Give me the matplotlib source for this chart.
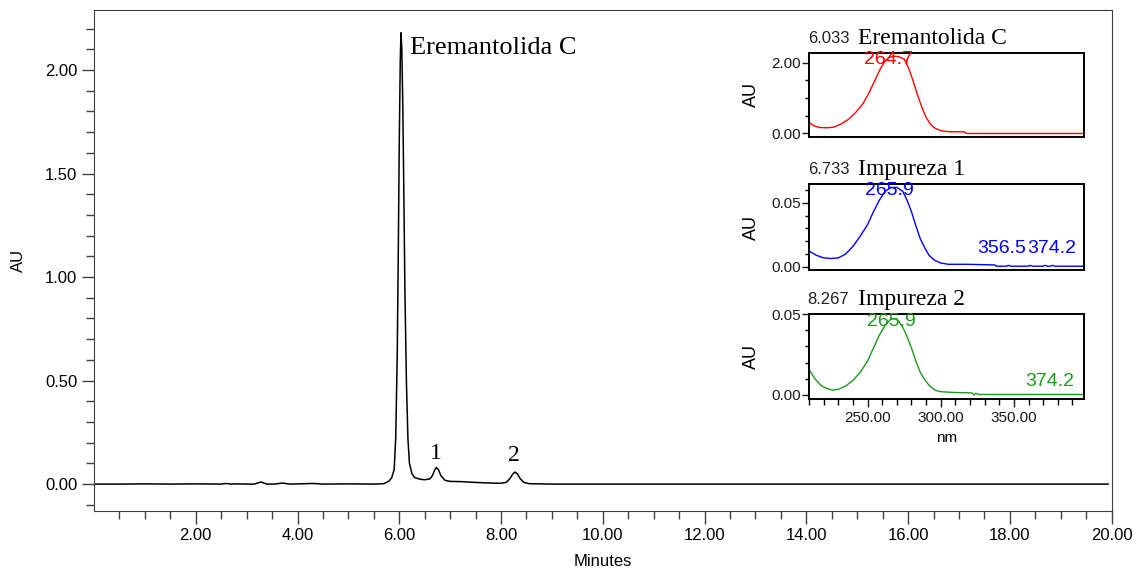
import numpy as np
import matplotlib
matplotlib.use("Agg")
import matplotlib.pyplot as plt
from matplotlib.ticker import MultipleLocator, FixedLocator, FormatStrFormatter

# main chromatogram (minutes, AU)
times = [0.0, 0.5, 1.0, 1.5, 2.0, 2.5, 2.6, 2.7, 2.8, 3.0, 3.15, 3.28, 3.4,
         3.55, 3.7, 3.85, 4.0, 4.3, 4.5, 5.0, 5.5, 5.7, 5.8, 5.85, 5.9, 5.93,
         5.96, 5.98, 6.0, 6.02, 6.033, 6.05, 6.07, 6.09, 6.11, 6.14, 6.17,
         6.2, 6.25, 6.3, 6.4, 6.5, 6.6, 6.65, 6.7, 6.73, 6.77, 6.82, 6.9,
         7.0, 7.2, 7.5, 7.8, 8.0, 8.1, 8.17, 8.22, 8.27, 8.32, 8.38, 8.45,
         8.55, 9.0, 10.0, 12.0, 14.0, 16.0, 18.0, 19.93]
absorb = [0.0, 0.0, 0.001, 0.0, 0.001, 0.0, 0.003, 0.0, 0.001, 0.0, 0.0,
          0.01, 0.0, 0.0, 0.005, 0.0, 0.001, 0.003, 0.0, 0.001, 0.0, 0.002,
          0.015, 0.03, 0.07, 0.22, 0.62, 1.1, 1.65, 2.05, 2.18, 2.1, 1.82,
          1.4, 0.95, 0.5, 0.22, 0.1, 0.05, 0.032, 0.024, 0.021, 0.025, 0.04,
          0.07, 0.08, 0.07, 0.04, 0.018, 0.013, 0.012, 0.008, 0.005, 0.004,
          0.008, 0.025, 0.045, 0.058, 0.05, 0.025, 0.008, 0.002, 0.0, 0.0,
          0.0, 0.0, 0.0, 0.0, 0.0]

# UV spectra (nm, AU)
nm_red = [210.5, 213, 217, 222, 227, 232, 237, 242, 247, 251, 255, 259, 262,
          265, 268, 271, 275, 278, 281, 284, 287, 290, 293, 296, 300, 305,
          316, 318, 398]
au_red = [0.3, 0.22, 0.17, 0.16, 0.18, 0.27, 0.4, 0.6, 0.85, 1.15, 1.5, 1.85,
          2.05, 2.15, 2.18, 2.17, 2.1, 1.85, 1.5, 1.1, 0.75, 0.45, 0.26, 0.15,
          0.08, 0.05, 0.045, 0.0, 0.0]

nm_blue = [210.5, 215, 220, 225, 230, 235, 240, 245, 250, 254, 258, 262, 266,
           270, 274, 277, 280, 283, 286, 289, 292, 296, 300, 305, 318, 337,
           338, 345, 346, 348, 360, 361, 363, 370, 371, 373, 375, 376, 378,
           398]
au_blue = [0.012, 0.009, 0.007, 0.0065, 0.007, 0.010, 0.016, 0.024, 0.033,
           0.043, 0.052, 0.059, 0.062, 0.062, 0.059, 0.052, 0.043, 0.032,
           0.022, 0.015, 0.009, 0.005, 0.003, 0.002, 0.002, 0.0015, 0.0005,
           0.0005, 0.0012, 0.0005, 0.0005, 0.0012, 0.0005, 0.0005, 0.0012,
           0.0005, 0.0005, 0.0012, 0.0005, 0.0005]

nm_green = [210.5, 214, 218, 222, 226, 230, 235, 240, 245, 250, 254, 258,
            262, 266, 270, 274, 277, 280, 283, 286, 289, 292, 296, 300, 310,
            321, 323, 324, 326, 398]
au_green = [0.015, 0.01, 0.006, 0.004, 0.003, 0.0035, 0.0055, 0.009, 0.014,
            0.021, 0.029, 0.037, 0.043, 0.047, 0.047, 0.042, 0.036, 0.029,
            0.021, 0.014, 0.0095, 0.006, 0.003, 0.002, 0.0015, 0.0013, 0.0,
            0.001, 0.0003, 0.0003]

plt.rcParams["font.family"] = ["Liberation Sans", "DejaVu Sans"]
serif = ["Liberation Serif", "DejaVu Serif"]

fig = plt.figure(figsize=(11.46, 5.70), dpi=100)

ax = fig.add_axes([0.082, 0.1035, 0.888, 0.879])
ax.plot(times, absorb, color="black", linewidth=1.1)
ax.set_xlim(0, 20)
ax.set_ylim(-0.13, 2.29)
xt = np.arange(2, 21, 2)
ax.set_xticks(xt)
ax.set_xticklabels([f"{v:.2f}" for v in xt])
ax.xaxis.set_minor_locator(FixedLocator(np.arange(0.5, 20, 0.5)))
ax.yaxis.set_major_locator(MultipleLocator(0.5))
ax.yaxis.set_minor_locator(MultipleLocator(0.1))
ax.yaxis.set_major_formatter(FormatStrFormatter("%.2f"))
ax.tick_params(which="major", length=9, width=1, color="#404040",
               labelsize=12, pad=3)
ax.tick_params(which="minor", length=6, width=1, color="#404040")
for s in ax.spines.values():
    s.set_color("#404040")
ax.set_xlabel("Minutes", fontsize=12, labelpad=8)
ax.set_ylabel("AU", fontsize=12, labelpad=14)

ax.text(6.21, 2.106, "Eremantolida C", family=serif, fontsize=19,
        va="center", ha="left")
ax.text(6.72, 0.15, "1", family=serif, fontsize=17, ha="center", va="center")
ax.text(8.25, 0.14, "2", family=serif, fontsize=17, ha="center", va="center")

insets = [
    ([0.706, 0.7596, 0.240, 0.148], nm_red, au_red, "red", (-0.1, 2.28),
     0.5, 2.0, "6.033", "Eremantolida C"),
    ([0.706, 0.526, 0.240, 0.151], nm_blue, au_blue, "blue", (-0.0026, 0.0646),
     0.01, 0.05, "6.733", "Impureza 1"),
    ([0.706, 0.300, 0.240, 0.149], nm_green, au_green, "#1f9a1f",
     (-0.0025, 0.05), 0.01, 0.05, "8.267", "Impureza 2"),
]

axes_in = []
for pos, xs, ys, col, ylim, minor, major, rt, name in insets:
    a = fig.add_axes(pos)
    a.plot(xs, ys, color=col, linewidth=1.0)
    a.set_xlim(210, 398)
    a.set_ylim(*ylim)
    a.set_yticks([0.0, major])
    a.yaxis.set_minor_locator(MultipleLocator(minor))
    a.yaxis.set_major_formatter(FormatStrFormatter("%.2f"))
    a.xaxis.set_major_locator(MultipleLocator(50))
    a.xaxis.set_minor_locator(MultipleLocator(10))
    a.xaxis.set_major_formatter(FormatStrFormatter("%.2f"))
    a.tick_params(which="major", length=5, width=1, labelsize=11, pad=1,
                  colors="#1a1a1a")
    a.tick_params(which="minor", length=3, width=1)
    a.tick_params(axis="x", which="both", bottom=False, labelbottom=False)
    for s in a.spines.values():
        s.set_linewidth(1.4)
    a.set_ylabel("AU", fontsize=13, labelpad=8)
    a.text(-0.005, 1.17, rt, transform=a.transAxes, fontsize=12,
           ha="left", va="center", color="#222222")
    a.text(0.178, 1.17, name, transform=a.transAxes, family=serif,
           fontsize=17, ha="left", va="center")
    axes_in.append(a)

a1, a2, a3 = axes_in
a3.tick_params(axis="x", which="major", bottom=True, labelbottom=True,
               length=6, pad=3)
a3.tick_params(axis="x", which="minor", bottom=True, length=4)
a3.set_xlabel("nm", fontsize=11, labelpad=4)

lab = dict(fontsize=14, ha="left", va="center")
a1.text(247.5, 2.08, "264.7", color="red", **lab)
a2.text(248.5, 0.0595, "265.9", color="blue", **lab)
a2.text(325, 0.0146, "356.5", color="blue", **lab)
a2.text(359.3, 0.0146, "374.2", color="blue", **lab)
a3.text(249.5, 0.0455, "265.9", color="#1f9a1f", **lab)
a3.text(358, 0.0081, "374.2", color="#1f9a1f", **lab)

fig.savefig("out.png", dpi=100)
